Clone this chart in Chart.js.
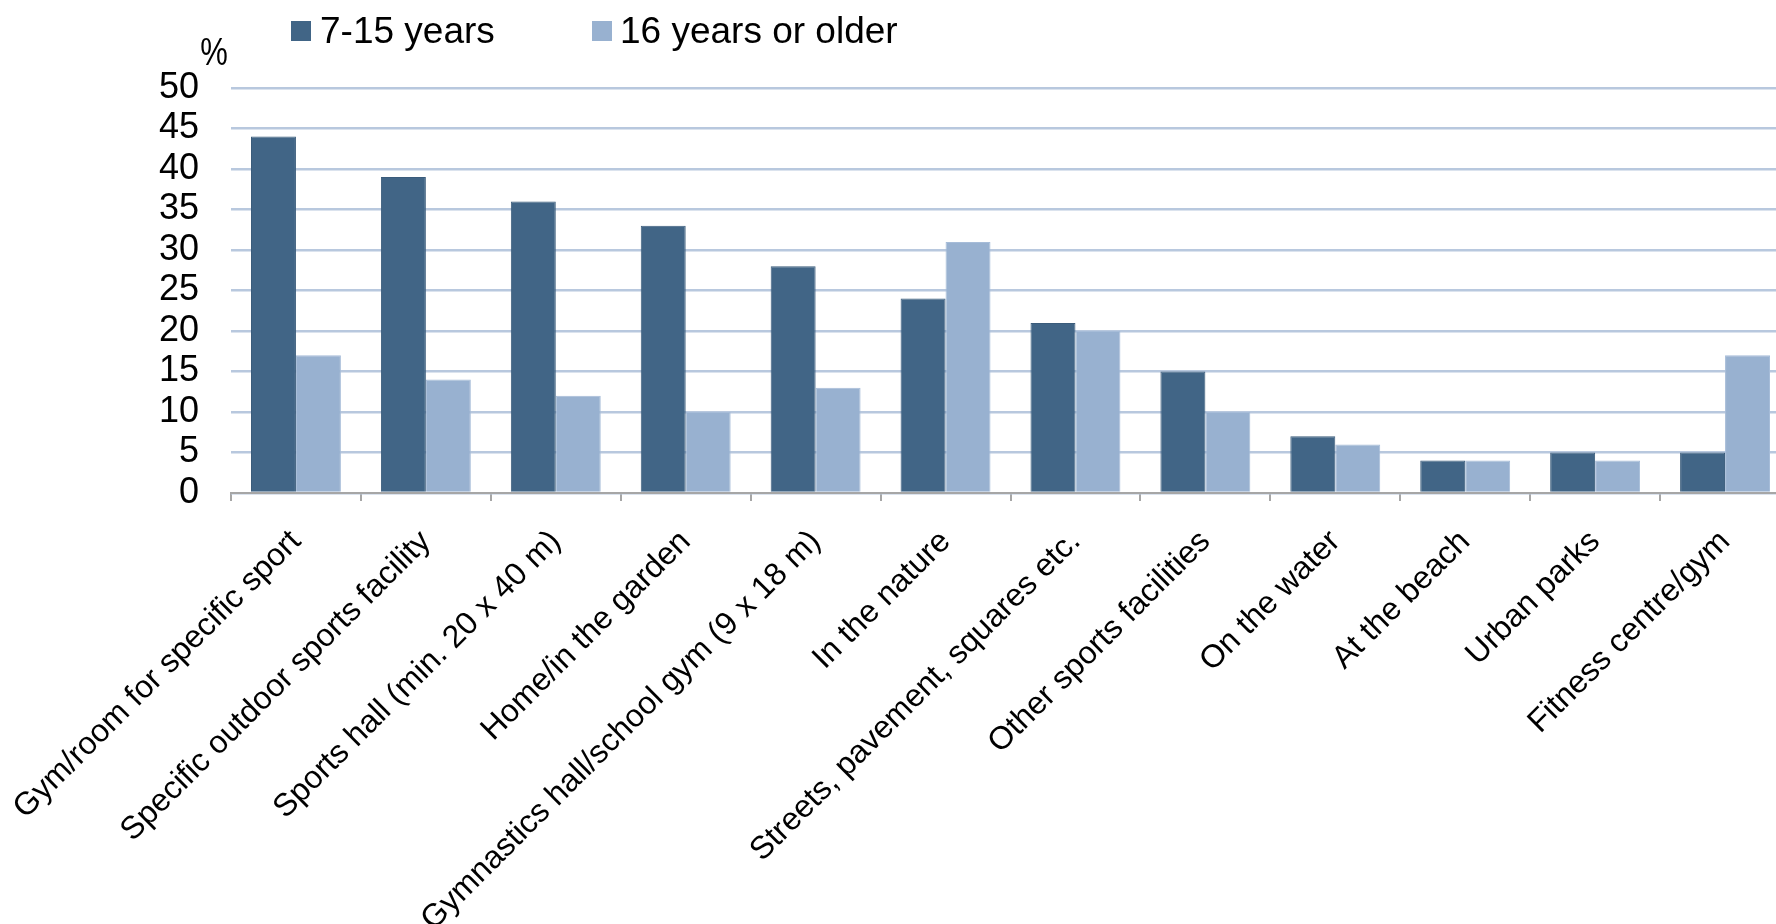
<!DOCTYPE html>
<html>
<head>
<meta charset="utf-8">
<title>Places of sport activity by age group</title>
<script src="https://cdn.jsdelivr.net/npm/chart.js@4.4.1/dist/chart.umd.min.js"></script>
<style>
  html, body { margin: 0; padding: 0; background: #ffffff; overflow: hidden; }
  #wrap { position: absolute; left: 0; top: 0; width: 1800px; height: 924px; }
</style>
</head>
<body>
<div id="wrap"><canvas id="chart" width="1800" height="924"></canvas></div>
<script>
// Where people do sport, share of each age group (%)
const categories = [
  'Gym/room for specific sport',
  'Specific outdoor sports facility',
  'Sports hall (min. 20 x 40 m)',
  'Home/in the garden',
  'Gymnastics hall/school gym (9 x 18 m)',
  'In the nature',
  'Streets, pavement, squares etc.',
  'Other sports facilities',
  'On the water',
  'At the beach',
  'Urban parks',
  'Fitness centre/gym'
];
const seriesNames = ['7-15 years', '16 years or older'];
const youth = [44, 39, 36, 33, 28, 24, 21, 15, 7, 4, 5, 5];
const adults = [17, 14, 12, 10, 13, 31, 20, 10, 6, 4, 4, 17];
const yTicks = [0, 5, 10, 15, 20, 25, 30, 35, 40, 45, 50];
const unitLabel = '%';

const FONT = '"Liberation Sans", Arial, Helvetica, sans-serif';
const DARK = '#416586';
const LIGHT = '#98b1d0';

// Legend row and unit label drawn above the plot
const headerPlugin = {
  id: 'header',
  afterDraw(chart) {
    const ctx = chart.ctx;
    ctx.save();
    // unit label, slightly tall glyph
    ctx.fillStyle = '#000000';
    ctx.font = '31px ' + FONT;
    ctx.textAlign = 'center';
    ctx.textBaseline = 'alphabetic';
    ctx.save();
    ctx.translate(214, 65);
    ctx.scale(1, 1.25);
    ctx.fillText(unitLabel, 0, 0);
    ctx.restore();

    const items = [
      { x: 291, textX: 320 },
      { x: 592, textX: 620 }
    ];
    chart.data.datasets.forEach((ds, i) => {
      const it = items[i];
      ctx.fillStyle = ds.backgroundColor;
      ctx.fillRect(it.x, 21, 20, 20);
      ctx.fillStyle = '#000000';
      ctx.font = '37px ' + FONT;
      ctx.textAlign = 'left';
      ctx.fillText(ds.label, it.textX, 43);
    });
    ctx.restore();
  }
};

new Chart(document.getElementById('chart'), {
  type: 'bar',
  data: {
    labels: categories,
    datasets: [
      { label: seriesNames[0], data: youth, backgroundColor: DARK, borderColor: '#3b5c7b', borderWidth: 1 },
      { label: seriesNames[1], data: adults, backgroundColor: LIGHT, borderColor: '#a6bcd8', borderWidth: 1 }
    ]
  },
  options: {
    responsive: false,
    animation: false,
    layout: { padding: { top: 88, right: 10, left: 0, bottom: 0 } },
    datasets: { bar: { categoryPercentage: 0.692, barPercentage: 1.0 } },
    plugins: {
      legend: { display: false },
      tooltip: { enabled: false }
    },
    scales: {
      x: {
        afterFit(scale) {
          scale.height = 431;
          scale.paddingLeft = 0;
          scale.paddingRight = 0;
        },
        grid: {
          display: true,
          drawOnChartArea: false,
          drawTicks: true,
          tickLength: 8,
          color: '#a6a6a6',
          lineWidth: 2,
          offset: true
        },
        border: { display: true, color: '#a6a6a6', width: 2 },
        ticks: {
          autoSkip: false,
          maxRotation: 45,
          minRotation: 45,
          padding: 22,
          color: '#000000',
          font: { family: FONT, size: 32 }
        }
      },
      y: {
        min: 0,
        max: 50,
        afterFit(scale) { scale.width = 231; },
        afterBuildTicks(scale) { scale.ticks = yTicks.map(v => ({ value: v })); },
        grid: {
          color: '#b8c8de',
          lineWidth: 2.5,
          drawTicks: false
        },
        border: { display: false },
        ticks: {
          autoSkip: false,
          padding: 32,
          color: '#000000',
          font: { family: FONT, size: 36 }
        }
      }
    }
  },
  plugins: [headerPlugin]
});
</script>
</body>
</html>
